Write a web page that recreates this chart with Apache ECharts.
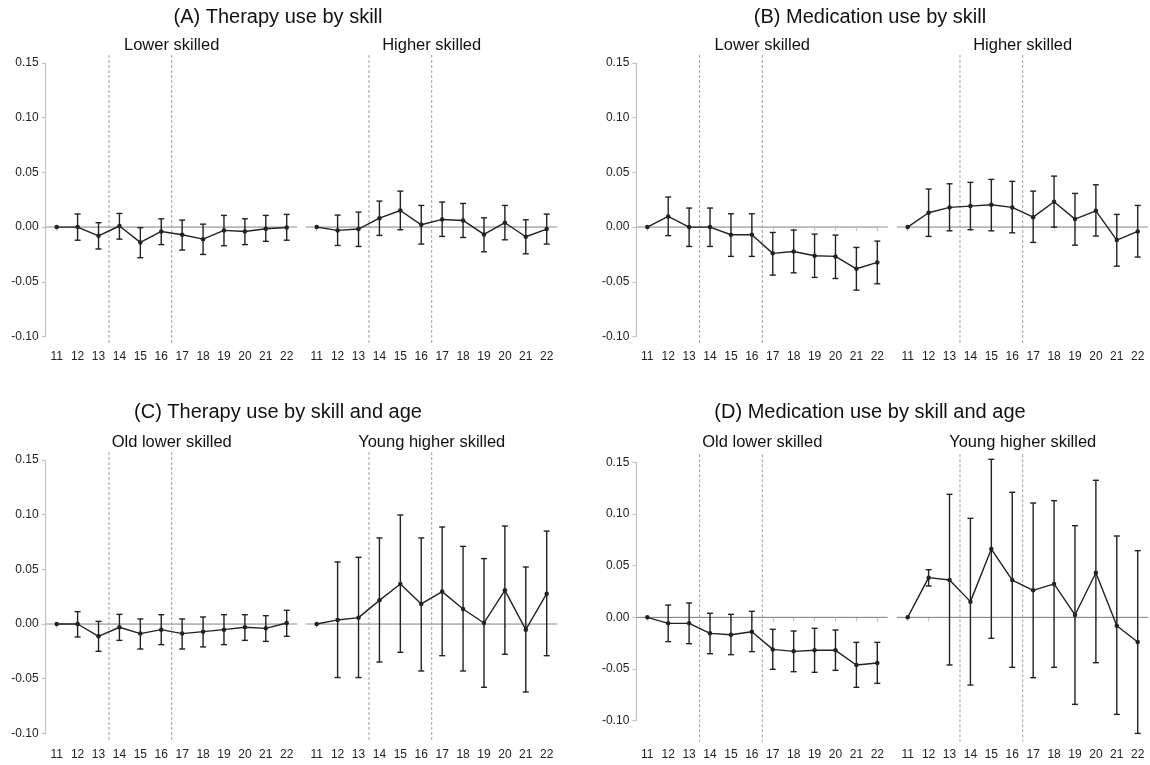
<!DOCTYPE html>
<html>
<head>
<meta charset="utf-8">
<style>
  html, body { margin: 0; padding: 0; background: #fff; }
  #chart { width: 1150px; height: 765px; }
</style>
<script src="https://cdn.jsdelivr.net/npm/echarts@6/dist/echarts.min.js"></script>
</head>
<body>
<div id="chart"></div>
<script>
// Event-time years and the two dashed cut-offs
const years = [11, 12, 13, 14, 15, 16, 17, 18, 19, 20, 21, 22];
const cutoffs = [13.5, 16.5];
const yMin = -0.10, yMax = 0.15, yStep = 0.05;

const titles = ['(A) Therapy use by skill', '(B) Medication use by skill',
    '(C) Therapy use by skill and age', '(D) Medication use by skill and age'];
const subTitles = ['Lower skilled', 'Higher skilled', 'Lower skilled', 'Higher skilled',
    'Old lower skilled', 'Young higher skilled', 'Old lower skilled', 'Young higher skilled'];

// (A) Therapy, lower skilled
const aLowEst = [0, 0.000, -0.008, 0.001, -0.014, -0.004, -0.007, -0.011, -0.003, -0.004, -0.0015, -0.0003];
const aLowLo  = [null, -0.012, -0.020, -0.011, -0.028, -0.016, -0.021, -0.025, -0.017, -0.016, -0.013, -0.012];
const aLowHi  = [null, 0.012, 0.004, 0.0125, -0.0005, 0.0076, 0.0064, 0.0027, 0.0107, 0.0076, 0.0107, 0.0116];
// (A) Therapy, higher skilled
const aHighEst = [0, -0.003, -0.0018, 0.0082, 0.0152, 0.0021, 0.007, 0.0061, -0.0067, 0.004, -0.0088, -0.0018];
const aHighLo  = [null, -0.0168, -0.0177, -0.0076, -0.0024, -0.0155, -0.0085, -0.0095, -0.0226, -0.0116, -0.0244, -0.0155];
const aHighHi  = [null, 0.011, 0.0137, 0.0238, 0.0329, 0.0198, 0.0229, 0.0216, 0.0085, 0.0198, 0.0067, 0.0119];
// (B) Medication, lower skilled
const bLowEst = [0, 0.0098, 0, 0, -0.007, -0.007, -0.024, -0.0223, -0.0262, -0.0268, -0.0381, -0.0323];
const bLowLo  = [null, -0.0078, -0.0177, -0.0177, -0.0268, -0.0268, -0.0439, -0.0418, -0.046, -0.047, -0.0576, -0.0518];
const bLowHi  = [null, 0.0275, 0.0174, 0.0174, 0.0122, 0.0122, -0.0049, -0.0027, -0.0064, -0.0073, -0.0186, -0.0128];
// (B) Medication, higher skilled
const bHighEst = [0, 0.0131, 0.018, 0.0192, 0.0204, 0.018, 0.0091, 0.0232, 0.0073, 0.0149, -0.0119, -0.004];
const bHighLo  = [null, -0.0085, -0.0034, -0.0024, -0.0034, -0.0052, -0.014, 0, -0.0165, -0.0082, -0.0357, -0.0274];
const bHighHi  = [null, 0.0348, 0.0396, 0.0409, 0.0436, 0.0418, 0.0329, 0.0466, 0.0308, 0.0387, 0.0116, 0.0198];
// (C) Therapy, old lower skilled
const cLowEst = [0, 0, -0.0113, -0.003, -0.0088, -0.0052, -0.0088, -0.007, -0.0052, -0.003, -0.004, 0.0009];
const cLowLo  = [null, -0.0119, -0.025, -0.015, -0.0229, -0.0189, -0.0229, -0.021, -0.0189, -0.015, -0.0159, -0.0113];
const cLowHi  = [null, 0.0113, 0.0024, 0.0088, 0.0046, 0.0085, 0.0046, 0.0064, 0.0085, 0.0085, 0.0076, 0.0125];
// (C) Therapy, young higher skilled
const cHighEst = [0, 0.0037, 0.0058, 0.0216, 0.0366, 0.0183, 0.0296, 0.0137, 0.0009, 0.0308, -0.0052, 0.0277];
const cHighLo  = [null, -0.049, -0.049, -0.0348, -0.0259, -0.043, -0.029, -0.043, -0.0579, -0.0277, -0.0622, -0.029];
const cHighHi  = [null, 0.0567, 0.061, 0.0787, 0.0997, 0.0787, 0.0887, 0.071, 0.0598, 0.0896, 0.0521, 0.085];
// (D) Medication, old lower skilled
const dLowEst = [0, -0.0058, -0.0058, -0.0155, -0.0168, -0.0139, -0.031, -0.0329, -0.0319, -0.0319, -0.0461, -0.0442];
const dLowLo  = [null, -0.0235, -0.0255, -0.0352, -0.0361, -0.0332, -0.0503, -0.0526, -0.0532, -0.0513, -0.0677, -0.0639];
const dLowHi  = [null, 0.0119, 0.0139, 0.0039, 0.0029, 0.0058, -0.0116, -0.0132, -0.0106, -0.0123, -0.0242, -0.0242];
// (D) Medication, young higher skilled
const dHighEst = [0, 0.0384, 0.0361, 0.0152, 0.0661, 0.0361, 0.0261, 0.0323, 0.0023, 0.0432, -0.0081, -0.0239];
const dHighLo  = [null, 0.0303, -0.0461, -0.0655, -0.0203, -0.0484, -0.0584, -0.0484, -0.0842, -0.0439, -0.0939, -0.1123];
const dHighHi  = [null, 0.0461, 0.119, 0.0958, 0.1529, 0.121, 0.1106, 0.1129, 0.0887, 0.1326, 0.0787, 0.0645];

const panelData = [
    [aLowEst, aLowLo, aLowHi], [aHighEst, aHighLo, aHighHi],
    [bLowEst, bLowLo, bLowHi], [bHighEst, bHighLo, bHighHi],
    [cLowEst, cLowLo, cLowHi], [cHighEst, cHighLo, cHighHi],
    [dLowEst, dLowLo, dLowHi], [dHighEst, dHighLo, dHighHi]
];

// Layout: x of year 11 for each sub-panel, rows (top of 0.15, height to -0.10, axis offset)
const colLeft = [56.7, 316.7, 647.3, 907.7];
const plotWidth = 230;
const rows = [
    { top: 63, height: 273.5, xOffset: 7, zeroColor: '#b4b4b4', zeroWidth: 1.5, titleY: 17, subY: 45 },
    { top: 460, height: 273.3, xOffset: 8, zeroColor: '#b4b4b4', zeroWidth: 1.5, titleY: 412, subY: 442 },
];
const rowD = { top: 462.3, height: 258.4, xOffset: 21, zeroColor: '#808080', zeroWidth: 1 };
const titleX = [278, 870];

const FONT = '"Liberation Sans", Arial, sans-serif';
const AXIS_GREY = '#c4c4c4';
const INK = '#222';

const grid = [], xAxis = [], yAxis = [], series = [], graphic = [];

panelData.forEach(([est, lo, hi], i) => {
    const panel = Math.floor(i / 2);          // A, B, C, D
    const side = i % 2;                       // lower / higher
    const row = panel < 2 ? rows[0] : (panel === 3 ? { ...rows[1], ...rowD } : rows[1]);
    const col = (panel % 2) * 2 + side;
    const left = colLeft[col];

    grid.push({ left, top: row.top, width: plotWidth, height: row.height, containLabel: false });

    xAxis.push({
        type: 'value', gridIndex: i, min: 11, max: 22, interval: 1, offset: row.xOffset,
        axisLine: { show: true, lineStyle: { color: AXIS_GREY, width: 1.2 } },
        axisTick: { show: true, length: 4, lineStyle: { color: AXIS_GREY, width: 1.2 } },
        axisLabel: { color: '#222', fontFamily: FONT, fontSize: 12, margin: 7 },
        splitLine: { show: false }
    });

    yAxis.push({
        type: 'value', gridIndex: i, min: yMin, max: yMax, interval: yStep, offset: 11,
        show: side === 0,
        axisLine: { show: true, lineStyle: { color: AXIS_GREY, width: 1.2 } },
        axisTick: { show: true, length: 4, lineStyle: { color: AXIS_GREY, width: 1.2 } },
        axisLabel: {
            color: '#222', fontFamily: FONT, fontSize: 12, margin: 7,
            formatter: v => (Math.abs(v) < 1e-9 ? 0 : v).toFixed(2)
        },
        splitLine: { show: false }
    });

    // zero reference line
    series.push({
        type: 'custom', xAxisIndex: i, yAxisIndex: i, silent: true, z: 1,
        data: [[0]],
        renderItem: (params, api) => {
            const a = api.coord([10.48, api.value(0)]);
            const b = api.coord([22.5, api.value(0)]);
            return { type: 'line', shape: { x1: a[0], y1: a[1], x2: b[0], y2: b[1] },
                style: { stroke: row.zeroColor, lineWidth: row.zeroWidth } };
        }
    });

    // dashed cut-off lines, from just above 0.15 down to the x axis line
    series.push({
        type: 'custom', xAxisIndex: i, yAxisIndex: i, silent: true, z: 1,
        data: cutoffs.map(c => [c]),
        renderItem: (params, api) => {
            const t = api.coord([api.value(0), yMax]);
            const b = api.coord([api.value(0), yMin]);
            return { type: 'line', shape: { x1: t[0], y1: t[1] - 8, x2: b[0], y2: b[1] + row.xOffset },
                style: { stroke: '#a0a0a0', lineWidth: 1, lineDash: [3, 2] } };
        }
    });

    // confidence intervals
    series.push({
        type: 'custom', xAxisIndex: i, yAxisIndex: i, silent: true, z: 3,
        data: years.map((y, k) => [y, lo[k], hi[k]]).filter(d => d[1] !== null),
        renderItem: (params, api) => {
            const l = api.coord([api.value(0), api.value(1)]);
            const h = api.coord([api.value(0), api.value(2)]);
            const w = 3;
            const st = { stroke: INK, lineWidth: 1.4 };
            return { type: 'group', children: [
                { type: 'line', shape: { x1: l[0], y1: l[1], x2: h[0], y2: h[1] }, style: st },
                { type: 'line', shape: { x1: h[0] - w, y1: h[1], x2: h[0] + w, y2: h[1] }, style: st },
                { type: 'line', shape: { x1: l[0] - w, y1: l[1], x2: l[0] + w, y2: l[1] }, style: st }
            ] };
        }
    });

    // point estimates
    series.push({
        type: 'line', xAxisIndex: i, yAxisIndex: i, silent: true, z: 4, clip: false,
        data: years.map((y, k) => [y, est[k]]),
        symbol: 'circle', symbolSize: 4.5, showSymbol: true,
        itemStyle: { color: INK },
        lineStyle: { color: INK, width: 1.4 }
    });

    graphic.push({
        type: 'text', x: left + plotWidth / 2, y: row.subY ?? rows[1].subY,
        style: { text: subTitles[i], font: `16.5px ${FONT}`, fill: '#111', textAlign: 'center', textVerticalAlign: 'middle' }
    });
});

titles.forEach((t, k) => {
    graphic.push({
        type: 'text', x: titleX[k % 2], y: (k < 2 ? rows[0] : rows[1]).titleY,
        style: { text: t, font: `20px ${FONT}`, fill: '#111', textAlign: 'center', textVerticalAlign: 'middle' }
    });
});

const chart = echarts.init(document.getElementById('chart'), null, { renderer: 'canvas' });
chart.setOption({ animation: false, backgroundColor: '#fff', grid, xAxis, yAxis, series, graphic });
</script>
</body>
</html>
